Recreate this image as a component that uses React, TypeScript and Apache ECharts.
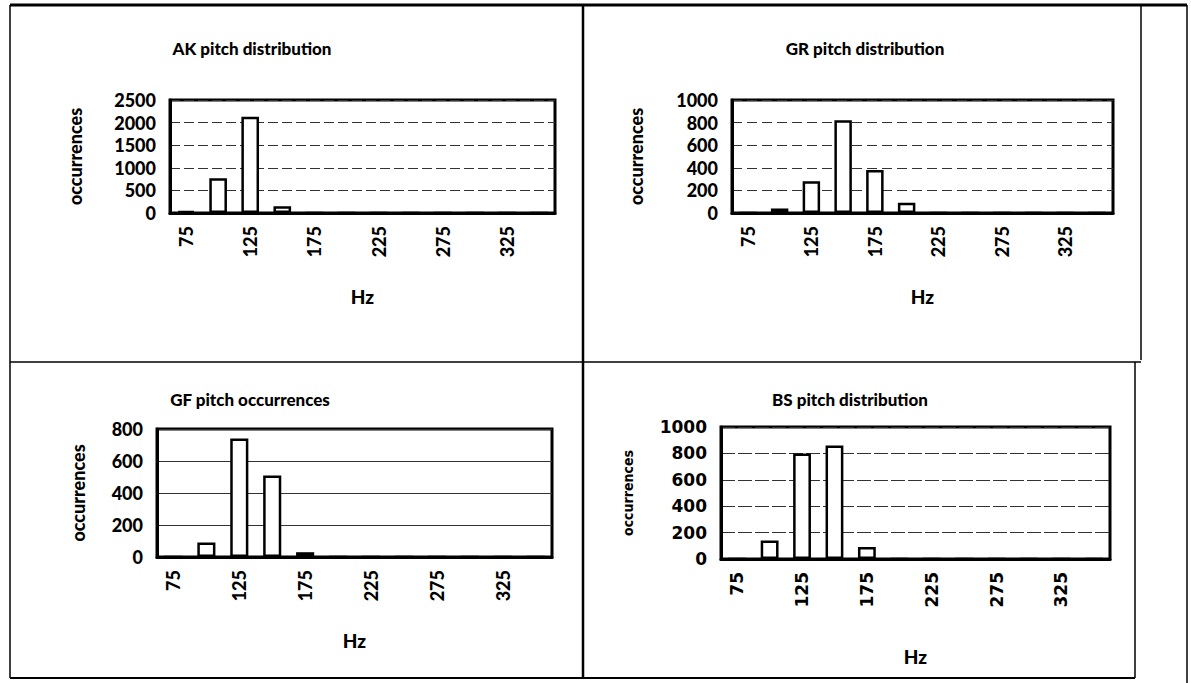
import React, { useEffect, useRef } from "react";
import * as echarts from "echarts";

const categories = ["75", "100", "125", "150", "175", "200", "225", "250", "275", "300", "325", "350"];
const akValues = [40, 770, 2130, 150, 0, 0, 0, 0, 0, 0, 0, 0];
const grValues = [0, 40, 280, 820, 380, 90, 0, 0, 0, 0, 0, 0];
const gfValues = [0, 90, 740, 510, 30, 0, 0, 0, 0, 0, 0, 0];
const bsValues = [0, 140, 800, 860, 90, 0, 0, 0, 0, 0, 0, 0];
const titles = ["AK pitch distribution", "GR pitch distribution", "GF pitch occurrences", "BS pitch distribution"];
const yMax = [2500, 1000, 800, 1000];
const yStep = [500, 200, 200, 200];
const yName = "occurrences";
const xName = "Hz";

const HUM = "Lato";
const ARIAL = "DejaVu Sans";

export default function App() {
  const ref = useRef<HTMLDivElement>(null);
  useEffect(() => {
    document.body.style.margin = "0";
    const chart = echarts.init(ref.current!, null, { renderer: "svg" });
    const grids = [
      { left: 170, top: 100, width: 385, height: 113 },
      { left: 732, top: 100, width: 381, height: 113 },
      { left: 157, top: 429, width: 395, height: 128 },
      { left: 721, top: 427, width: 389, height: 132 },
    ];
    const yNameGap = [86, 87, 70, 86];
    const xNameGap = [74, 74, 74, 88];
    const splitTypes: any[] = [[10, 4], [10, 5], "solid", [14, 3]];
    const tickFont = [HUM, HUM, HUM, ARIAL];
    const tickWeight: any[] = [900, 900, 900, "bold"];
    const tickSize = [18, 18, 18, 17];
    const yNameFont = [
      { fontFamily: HUM, fontSize: 18, fontWeight: 900 },
      { fontFamily: HUM, fontSize: 18, fontWeight: 900 },
      { fontFamily: HUM, fontSize: 18, fontWeight: 900 },
      { fontFamily: "DejaVu Sans Condensed", fontSize: 14, fontWeight: "bold" },
    ];
    const series = [akValues, grValues, gfValues, bsValues];
    const titlePos = [
      [247, 35],
      [860, 35],
      [245, 386],
      [845, 386],
    ];
    const frame = [
      [10, 5, 1187, 5, 3],
      [10, 5, 10, 678, 1.5],
      [583, 5, 583, 678, 2.5],
      [1141, 5, 1141, 360, 1.5],
      [1135, 362, 1135, 678, 1.5],
      [1187, 5, 1187, 683, 1.5],
      [10, 362, 1141, 362, 1.5],
      [10, 678, 1135, 678, 2],
    ];
    chart.setOption({
      animation: false,
      backgroundColor: "#fff",
      title: titles.map((t, i) => ({
        text: t,
        left: titlePos[i][0],
        top: titlePos[i][1],
        textAlign: "center",
        textStyle: { fontFamily: HUM, fontWeight: 900, fontSize: 17, color: "#000" },
      })),
      grid: grids.map((g) => ({ ...g, show: true, borderColor: "#000", borderWidth: 3, backgroundColor: "#fff" })),
      xAxis: grids.map((_, i) => ({
        type: "category",
        gridIndex: i,
        data: categories,
        name: xName,
        nameLocation: "middle",
        nameGap: xNameGap[i],
        nameTextStyle: { fontFamily: HUM, fontWeight: 900, fontSize: 19, color: "#000" },
        axisLine: { show: true, lineStyle: { color: "#000", width: 3 } },
        axisTick: { show: false },
        axisLabel: {
          interval: 1,
          rotate: 90,
          margin: 13,
          fontFamily: tickFont[i],
          fontWeight: tickWeight[i],
          fontSize: tickSize[i],
          color: "#000",
        },
      })),
      yAxis: grids.map((_, i) => ({
        type: "value",
        gridIndex: i,
        min: 0,
        max: yMax[i],
        interval: yStep[i],
        name: yName,
        nameLocation: "middle",
        nameGap: yNameGap[i],
        nameTextStyle: { ...yNameFont[i], color: "#000" },
        axisLine: { show: true, lineStyle: { color: "#000", width: 3 } },
        axisTick: { show: false },
        axisLabel: {
          margin: 14,
          fontFamily: tickFont[i],
          fontWeight: tickWeight[i],
          fontSize: tickSize[i],
          color: "#000",
          formatter: (v: number) => String(v),
        },
        splitLine: { show: true, lineStyle: { color: "#333", width: 1, type: splitTypes[i] } },
      })),
      series: series.map((d, i) => ({
        type: "bar",
        xAxisIndex: i,
        yAxisIndex: i,
        data: d,
        barWidth: "55%",
        itemStyle: { color: "#fff", borderColor: "#000", borderWidth: 2.5 },
      })),
      graphic: frame.map((f) => ({
        type: "line",
        shape: { x1: f[0], y1: f[1], x2: f[2], y2: f[3] },
        style: { stroke: "#000", lineWidth: f[4] },
        silent: true,
      })),
    });
    return () => chart.dispose();
  }, []);
  return <div ref={ref} style={{ position: "fixed", left: 0, top: 0, width: 1191, height: 683 }} />;
}
